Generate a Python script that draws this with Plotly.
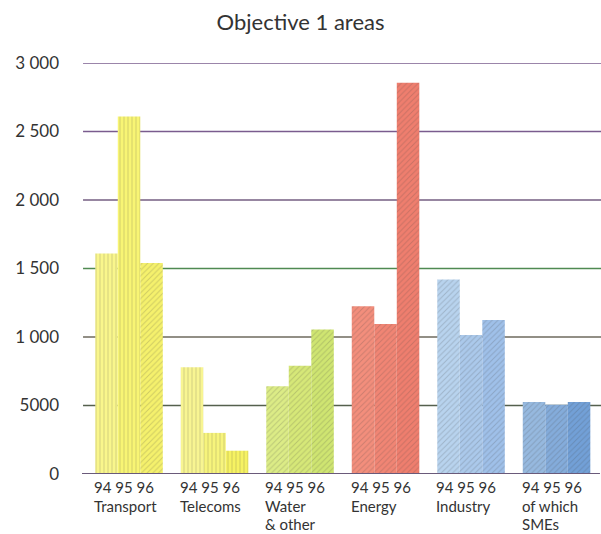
import plotly.graph_objects as go

# Categories and yearly values (million ECU)
groups = [["Transport"], ["Telecoms"], ["Water", "& other"], ["Energy"], ["Industry"], ["of which", "SMEs"]]
years = ["94", "95", "96"]
values_94 = [1610, 780, 640, 1225, 1420, 525]
values_95 = [2610, 300, 790, 1095, 1015, 505]
values_96 = [1540, 170, 1055, 2855, 1125, 525]

tick_vals = [0, 500, 1000, 1500, 2000, 2500, 3000]
tick_text = ["0", "5000", "1 000", "1 500", "2 000", "2 500", "3 000"]

# Colours per group, one shade for each year
colors_94 = ["#f9f68c", "#f8f592", "#dcec86", "#f38e7c", "#b8d3ee", "#96b9df"]
colors_95 = ["#f8f574", "#f7f47c", "#d6e878", "#f18574", "#abc9eb", "#84acdb"]
colors_96 = ["#f5f16c", "#f6f262", "#cfe571", "#ef7e6e", "#9fc0e9", "#72a0d7"]
hatch_94 = ["|", "|", "/", "/", "/", "/"]
hatch_95 = ["|", "|", "/", "/", "/", "/"]
hatch_96 = ["/", "|", "/", "/", "/", "/"]
hatch_fg = ["#e0d850", "#e0d850", "#b4c858", "#d86858", "#8aaad0", "#6a90c4"]

# Gridline colours by level
grid_colors = {500: "#55604e", 1000: "#6e6a5e", 1500: "#4f8a52",
               2000: "#745e82", 2500: "#7a5c8e", 3000: "#7a5c8e"}

x = list(range(len(groups)))
fig = go.Figure()
for vals, cols, hatch in [(values_94, colors_94, hatch_94),
                          (values_95, colors_95, hatch_95),
                          (values_96, colors_96, hatch_96)]:
    fig.add_trace(go.Bar(
        x=x, y=vals,
        marker=dict(color=cols, line=dict(width=0),
                    pattern=dict(shape=hatch, fgcolor=hatch_fg, fgopacity=0.22,
                                 size=4, solidity=0.25)),
        showlegend=False, hoverinfo="skip",
    ))

shapes = []
for level, c in grid_colors.items():
    shapes.append(dict(type="line", xref="paper", yref="y", x0=0.002, x1=1,
                       y0=level, y1=level, line=dict(color=c, width=1.5), layer="below"))
shapes.append(dict(type="line", xref="paper", yref="y", x0=0, x1=0.998,
                   y0=0, y1=0, line=dict(color="#6a5a7a", width=1.8), layer="above"))

# Category labels: year line followed by the group name, left-aligned under each group
label_font = dict(family="Lato", size=15, color="#333333")
line_shifts = [-13, -31.5, -50]
annotations = []
for i, name_lines in enumerate(groups):
    for k, txt in enumerate([" ".join(years)] + name_lines):
        annotations.append(dict(
            x=i - 0.42, y=0, xref="x", yref="paper", xanchor="left", yanchor="middle",
            yshift=line_shifts[k], showarrow=False, text=txt, font=label_font,
            borderpad=0,
        ))

fig.update_layout(
    width=601, height=534,
    margin=dict(l=82, r=0, t=63, b=60),
    paper_bgcolor="white", plot_bgcolor="white",
    barmode="group", bargap=0.21, bargroupgap=0,
    title=dict(text="Objective 1 areas", x=0.5, xanchor="center",
               y=1 - 22 / 534, yanchor="middle", yref="container",
               font=dict(family="Lato", size=22, color="#333333")),
    xaxis=dict(range=[-0.55, 5.52], showticklabels=False, showgrid=False,
               zeroline=False, ticks=""),
    yaxis=dict(range=[0, 3000], tickvals=tick_vals, ticktext=tick_text,
               showgrid=False, zeroline=False, ticks="", ticklabelstandoff=22,
               tickfont=dict(family="Lato", size=17, color="#333333")),
    shapes=shapes, annotations=annotations,
)

fig.write_html("out.html")
